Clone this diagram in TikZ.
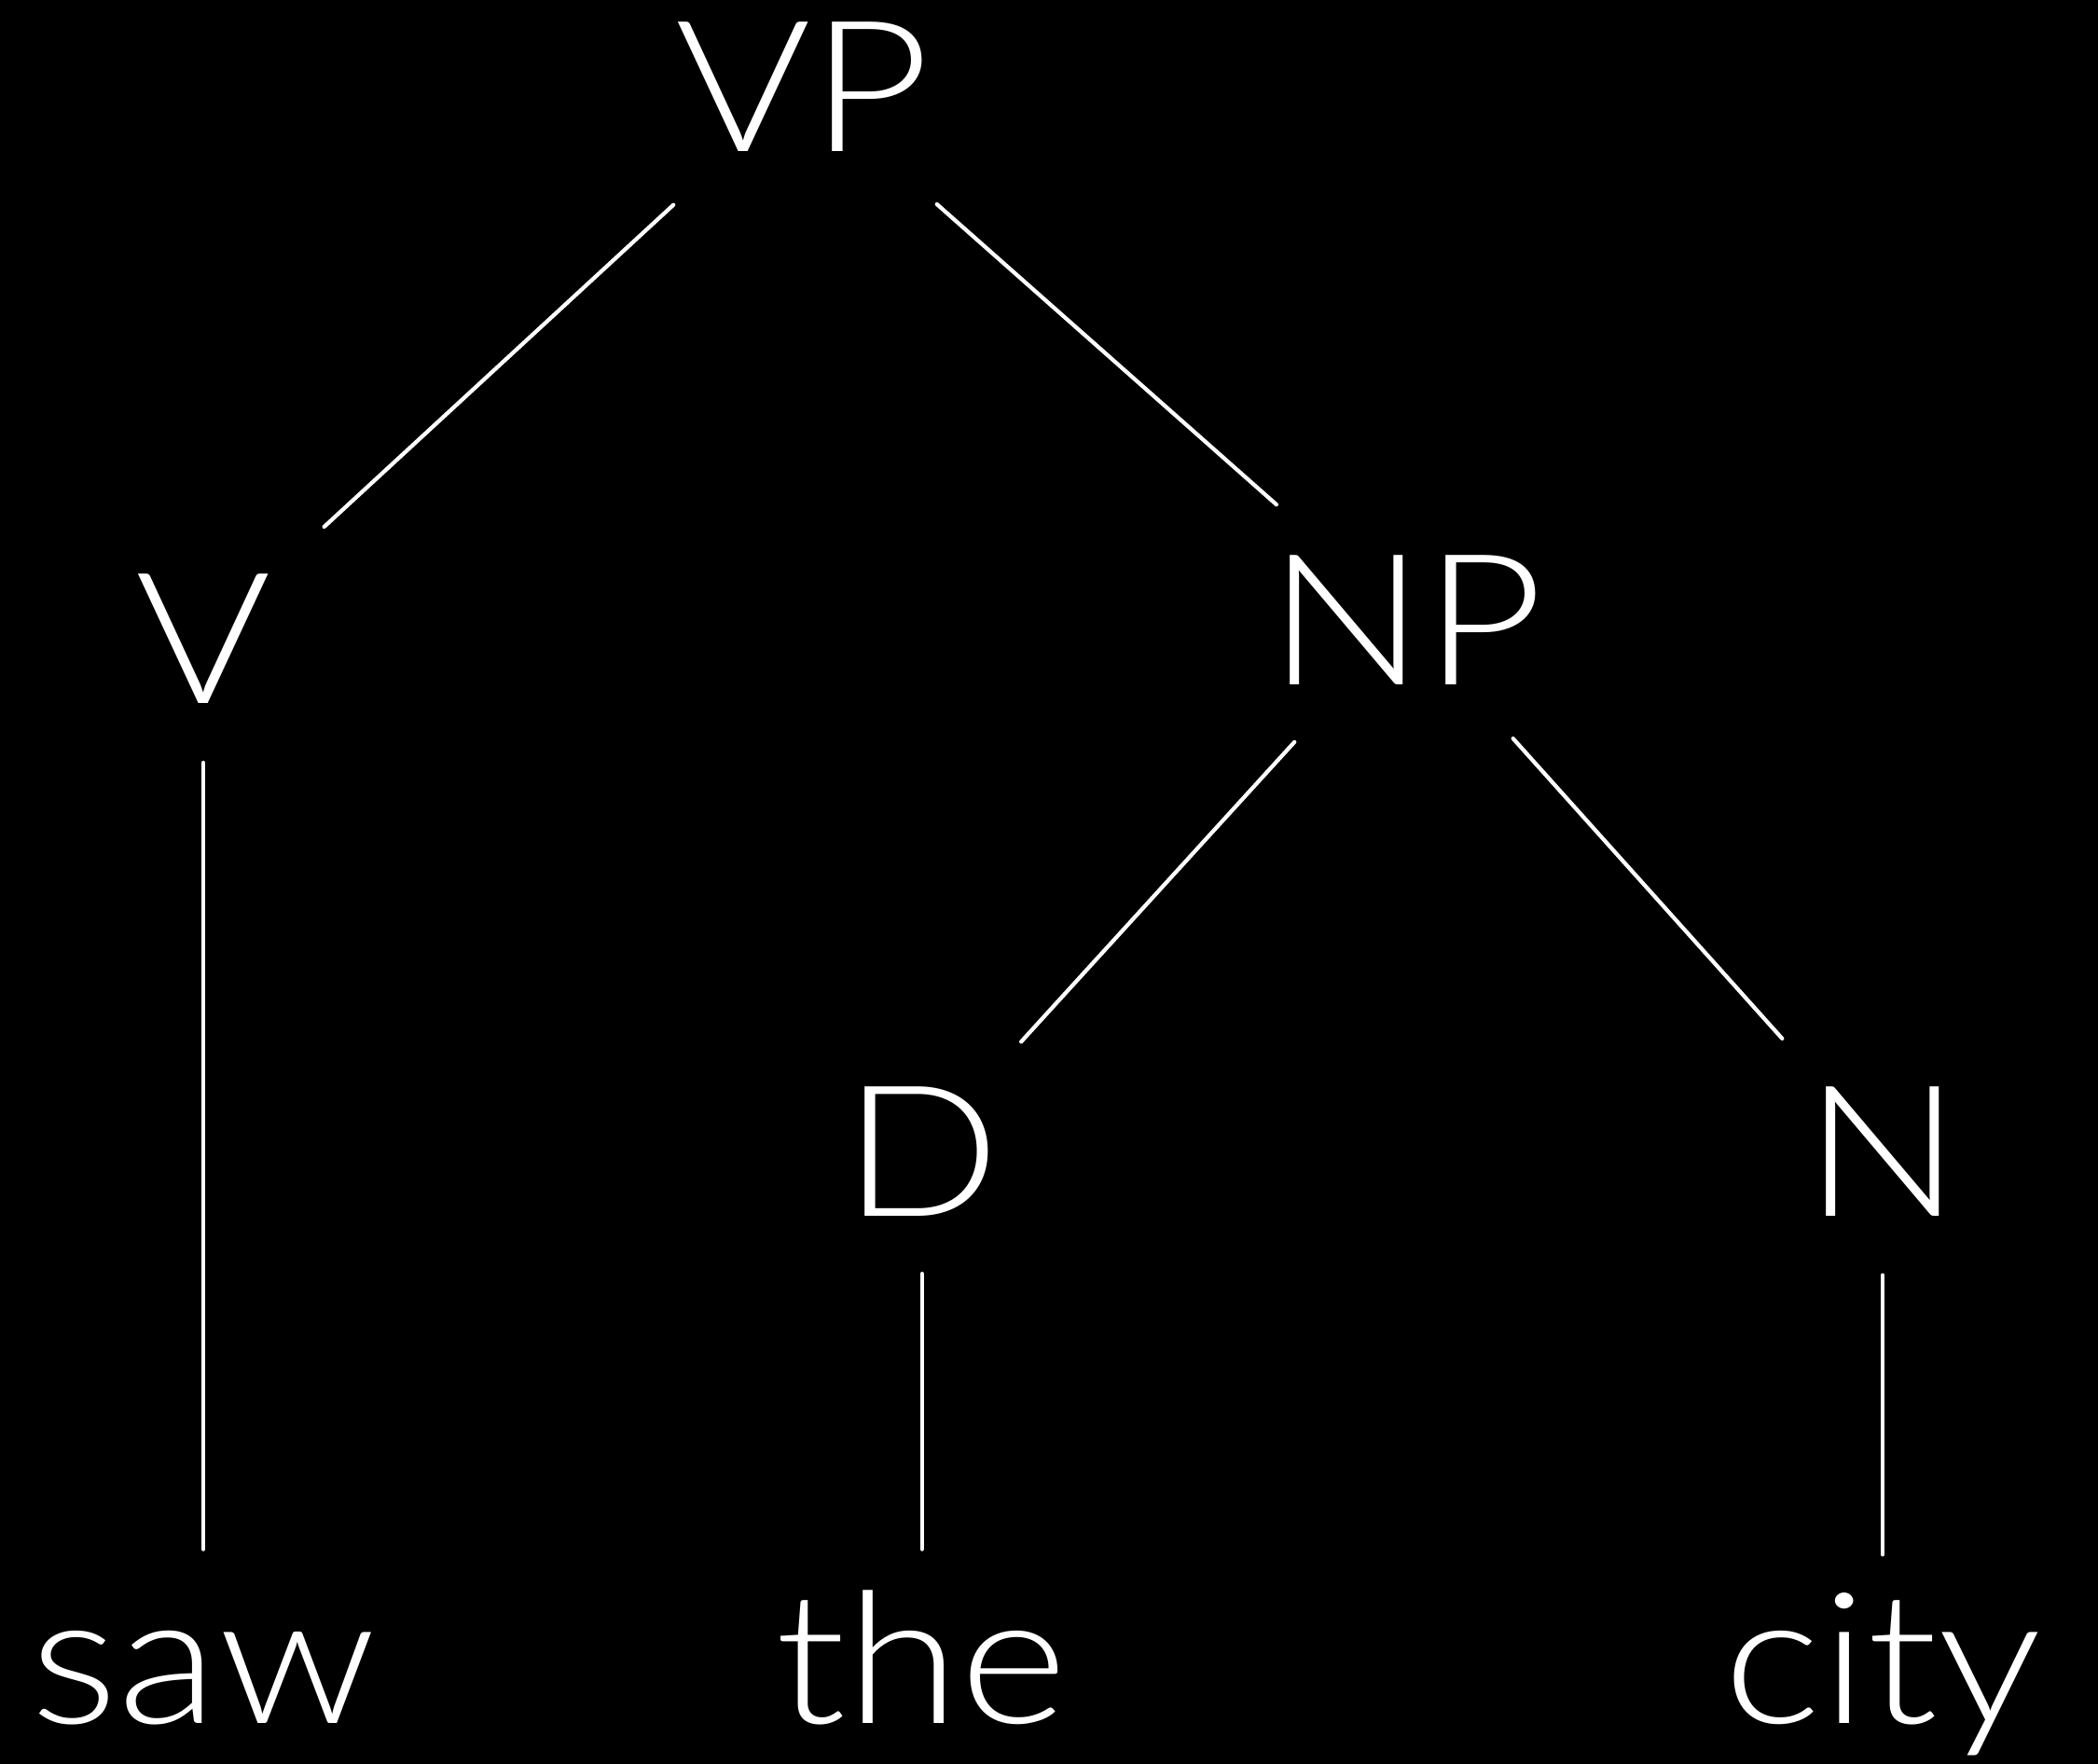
\documentclass[tikz,border=0pt]{standalone}
\usepackage{fontspec}
\usepackage{graphicx}
\setmainfont{Lato Light}
\newcommand\hstretch[1]{\scalebox{1.13}[1]{#1}}
\begin{document}
\begin{tikzpicture}[x=0.01435cm,y=-0.01435cm,
  lbl/.style={text=white,font=\fontsize{55.8}{60}\selectfont,inner sep=0pt,text height=1.406cm,text depth=0pt,anchor=base},
  edge/.style={draw=white,line width=1.2pt,line cap=round}]
\useasboundingbox (0,0) rectangle (1568,1318);
\fill[black] (-20,-20) rectangle (1588,1338);
\node[lbl] (VP) at (600,113) {\hstretch{VP}};
\node[lbl] (V) at (152,526) {\hstretch{V}};
\node[lbl] (NP) at (1051,512) {\hstretch{NP}};
\node[lbl] (D) at (689,909) {\hstretch{D}};
\node[lbl] (N) at (1407,909) {\hstretch{N}};
\node[lbl] (saw) at (152,1288) {\hstretch{saw}};
\node[lbl] (the) at (689,1288) {\hstretch{the}};
\node[lbl] (city) at (1407,1288) {\hstretch{city}};
\draw[edge,shorten <=1.887cm,shorten >=1.761cm] (VP.center) -- (V.center);
\draw[edge,shorten <=1.919cm,shorten >=1.858cm] (VP.center) -- (NP.center);
\draw[edge,shorten <=1.779cm,shorten >=1.579cm] (NP.center) -- (D.center);
\draw[edge,shorten <=1.715cm,shorten >=1.613cm] (NP.center) -- (N.center);
\draw[edge,shorten <=1.335cm,shorten >=1.162cm] (V.center) -- (saw.center);
\draw[edge,shorten <=1.320cm,shorten >=1.162cm] (D.center) -- (the.center);
\draw[edge,shorten <=1.335cm,shorten >=1.105cm] (N.center) -- (city.center);
\end{tikzpicture}
\end{document}
